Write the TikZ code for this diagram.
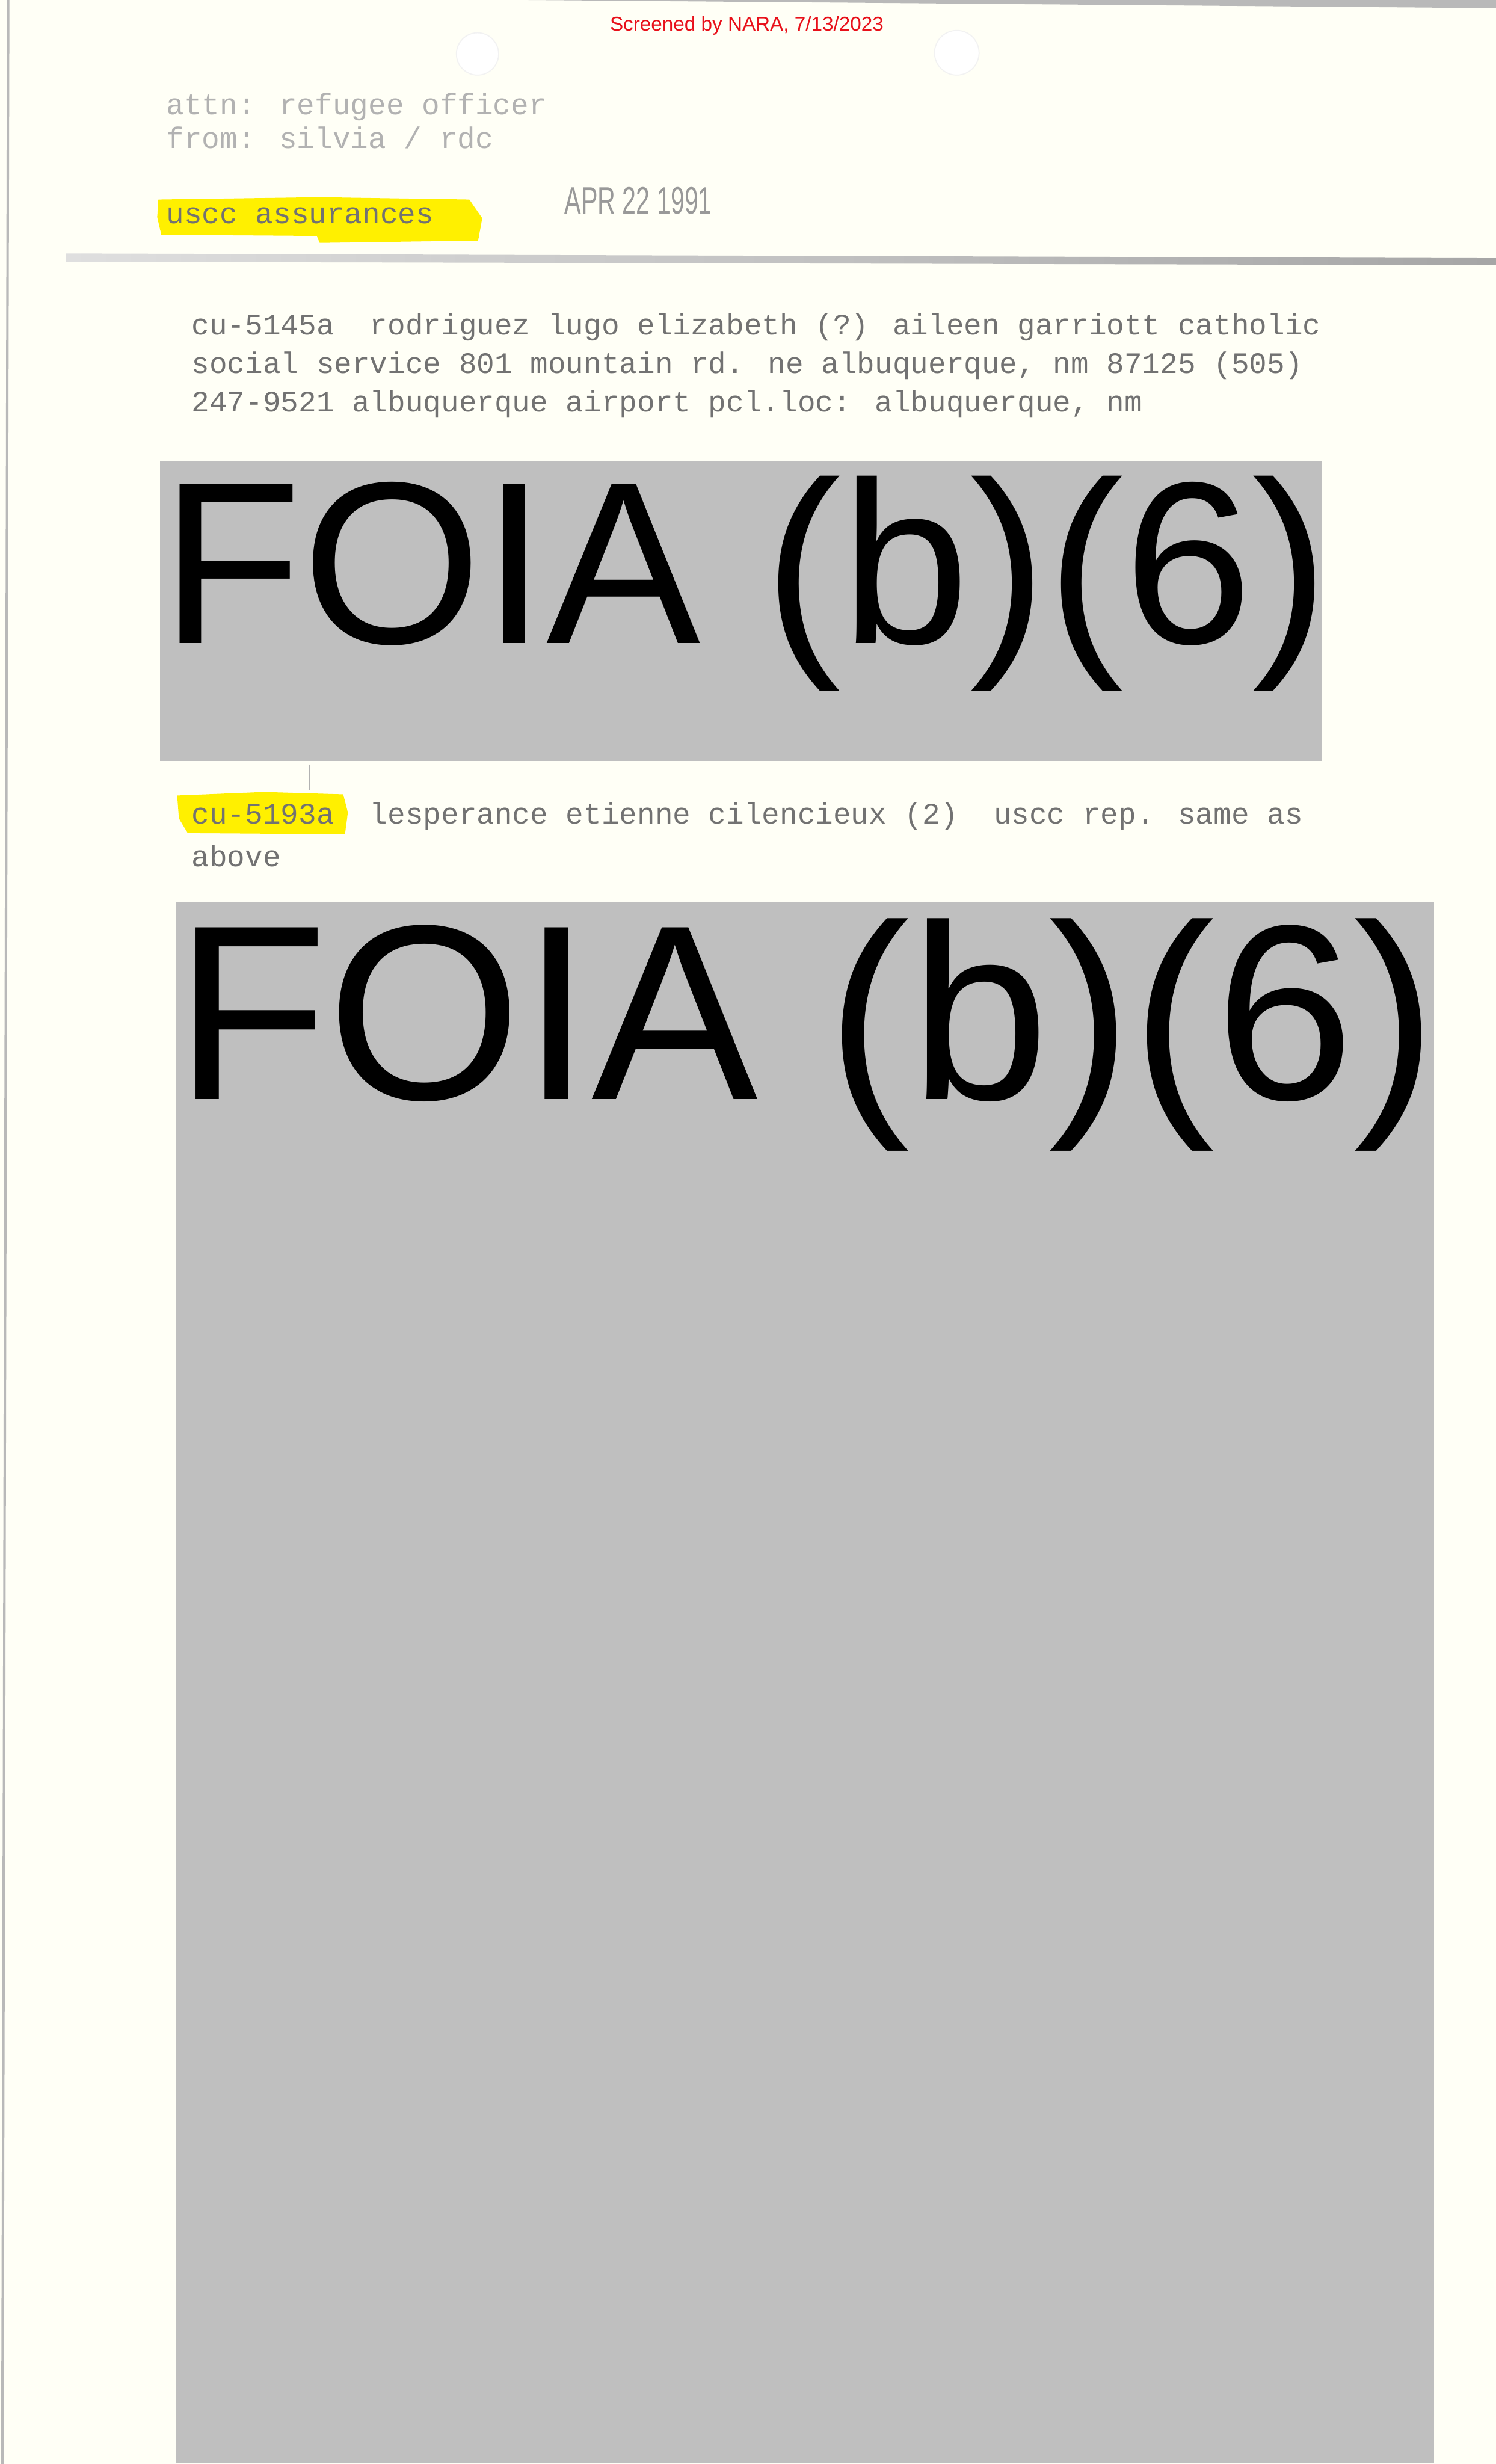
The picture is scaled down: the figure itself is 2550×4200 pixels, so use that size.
\documentclass[tikz,border=0pt]{standalone}
\usepackage{fontspec}
\setmainfont{Liberation Sans}
\newfontfamily\typefont{Liberation Mono}
\definecolor{paper}{HTML}{FFFFF6}
\definecolor{redact}{HTML}{BFBFBF}
\definecolor{marker}{HTML}{FFF000}
\definecolor{ink}{HTML}{727272}
\definecolor{faint}{HTML}{B2B2B2}
\definecolor{nara}{HTML}{E8101A}

\begin{document}
\begin{tikzpicture}[x=0.01cm,y=-0.01cm,
	typed/.style={anchor=base west, inner sep=0, text=ink, font=\typefont\fontsize{14.4pt}{17pt}\selectfont},
	faded/.style={typed, text=faint},
	foia/.style={anchor=base west, inner sep=0, text=black},
	hole/.style={fill=white, draw=gray!10, line width=0.5pt}]
	\fill[paper] (0,0) rectangle (2550,4200);
	\useasboundingbox (0,0) rectangle (2550,4200);
	% scan edges
	\fill[gray!55] (900,0) -- (2550,0) -- (2550,14) -- cycle;
	\draw[gray!55, line width=1.2pt] (14,0) -- (4,4200);
	\shade[left color=gray!25, right color=gray!70] (112,432) -- (2550,440) -- (2550,452) -- (112,446) -- cycle;
	% punch holes
	\draw[hole] (814,92) circle [radius=36];
	\draw[hole] (1631,90) circle [radius=38];
	\node[anchor=base, inner sep=0, text=nara, font=\fontsize{9.7pt}{10pt}\selectfont] (stamp) at (1273,53) {Screened by NARA, 7/13/2023};
	% header
	\node[faded] (attn) at (283,195) {attn: refugee officer};
	\node[faded] (from) at (283,253) {from: silvia / rdc};
	\fill[marker] (270,340) -- (545,336) -- (800,340) -- (822,372) -- (815,410) -- (545,414) -- (540,402) -- (275,400) -- (268,370) -- cycle;
	\node[typed] (topic) at (283,381) {uscc assurances};
	\node[anchor=base west, inner sep=0, text=gray!80, font=\fontsize{18.5pt}{19pt}\selectfont, xscale=0.65] (date) at (962,365) {APR 22 1991};
	% first entry
	\node[typed] (lineA) at (326,571) {cu-5145a\ \ rodriguez lugo elizabeth (?) aileen garriott catholic};
	\node[typed] (lineB) at (326,636) {social service 801 mountain rd. ne albuquerque, nm 87125 (505)};
	\node[typed] (lineC) at (326,702) {247-9521 albuquerque airport pcl.loc: albuquerque, nm};
	\fill[redact] (273,785) rectangle (2253,1297);
	\node[foia, font=\fontsize{112pt}{112pt}\selectfont] (foiaA) at (274,1097) {FOIA (b)(6)};
	% second entry
	\draw[gray!60, line width=0.5pt] (527,1303) -- (527,1347);
	\fill[marker] (302,1356) -- (450,1350) -- (585,1354) -- (593,1385) -- (588,1422) -- (320,1420) -- (305,1395) -- cycle;
	\node[typed] (lineD) at (326,1404) {cu-5193a\ \ lesperance etienne cilencieux (2)\ \ uscc rep. same as};
	\node[typed] (lineE) at (326,1477) {above};
	\fill[redact] (299,1537) rectangle (2444,4198);
	\node[foia, font=\fontsize{121pt}{121pt}\selectfont] (foiaB) at (298,1874) {FOIA (b)(6)};
\end{tikzpicture}
\end{document}
